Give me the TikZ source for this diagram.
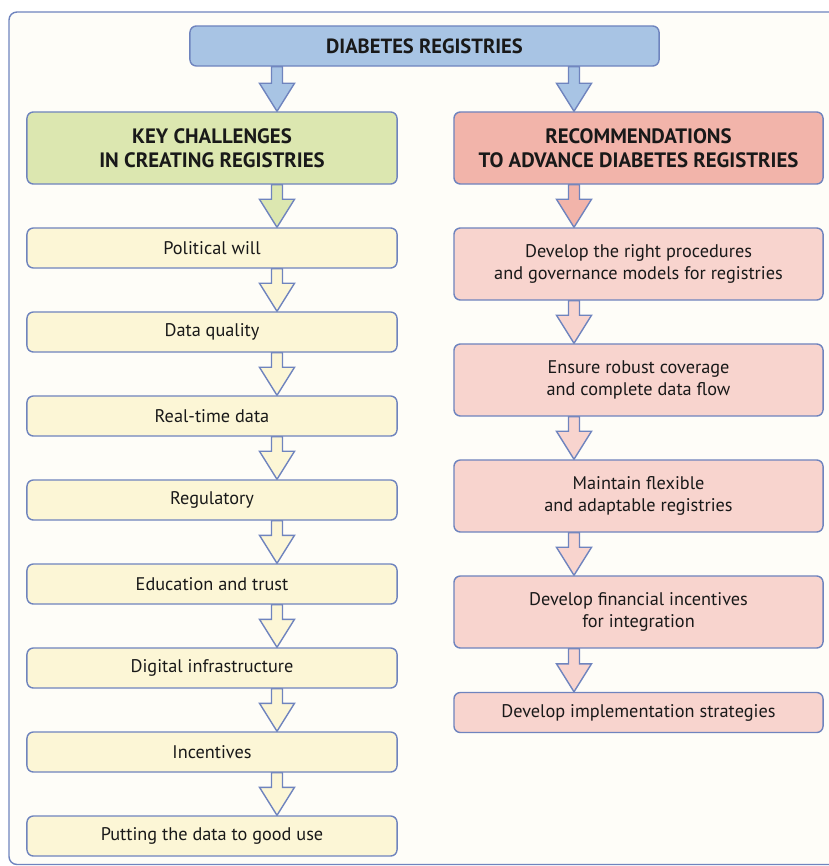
\documentclass[tikz,border=0pt]{standalone}
\usepackage{fontspec}
\setmainfont{PT Sans}
\usepackage{tikz}
\usetikzlibrary{calc}
\pgfdeclarelayer{background}
\pgfdeclarelayer{foreground}
\pgfsetlayers{background,main,foreground}

\definecolor{framecol}{HTML}{6F84BE}
\definecolor{bgcol}{HTML}{FEFDF8}
\definecolor{topcol}{HTML}{A8C4E4}
\definecolor{keycol}{HTML}{DCE7B0}
\definecolor{chalcol}{HTML}{FCF6D6}
\definecolor{reccol}{HTML}{F2B4AA}
\definecolor{stepcol}{HTML}{F8D4CE}

\tikzset{
  box/.style={rectangle,rounded corners=0.16cm,draw=framecol,line width=1pt,
    align=center,text=black!90,font=\fontsize{13}{15.5}\selectfont},
  headbox/.style={box,font=\fontsize{14.8}{17}\selectfont\bfseries,minimum height=1.8cm},
  leftbox/.style={box,fill=chalcol,minimum width=9.25cm,minimum height=1cm},
  rightbox/.style={box,fill=stepcol,minimum width=9.225cm,minimum height=1.8cm}
}

% block arrow from #1 down to #2, on the vertical through #3
\newcommand{\blockarrow}[4]{%
  \path (#1.south -| #3) coordinate (tail) (#2.north -| #3) coordinate (tip);
  \filldraw[fill=#4,draw=framecol,line width=1pt,line join=miter]
    ($(tail)+(-5.5,0)$) -- ($(tip)+(-5.5,-28)$) -- ($(tip)+(-17.5,-28)$) -- (tip)
    -- ($(tip)+(17.5,-28)$) -- ($(tip)+(5.5,-28)$) -- ($(tail)+(5.5,0)$) -- cycle;
}

\begin{document}
\begin{tikzpicture}[x=0.025cm,y=-0.025cm]
  \useasboundingbox (0,0) rectangle (828,866);
  \clip (0,0) rectangle (828,866);

  \coordinate (la) at (277,0);
  \coordinate (ra) at (574,0);

  \draw(424.5,46) node[box,fill=topcol,font=\fontsize{14.6}{17}\selectfont\bfseries,
    minimum width=11.725cm,minimum height=1cm] (top) {DIABETES REGISTRIES};

  \draw(212,148) node[headbox,fill=keycol,minimum width=9.25cm] (key) {KEY CHALLENGES\\IN CREATING REGISTRIES};
  \draw(638.5,148) node[headbox,fill=reccol,minimum width=9.225cm] (rec) {RECOMMENDATIONS\\TO ADVANCE DIABETES REGISTRIES};

  \draw(212,248) node[leftbox] (c1) {Political will};
  \draw(212,332) node[leftbox] (c2) {Data quality};
  \draw(212,416) node[leftbox] (c3) {Real-time data};
  \draw(212,500) node[leftbox] (c4) {Regulatory};
  \draw(212,584) node[leftbox] (c5) {Education and trust};
  \draw(212,668) node[leftbox] (c6) {Digital infrastructure};
  \draw(212,752) node[leftbox] (c7) {Incentives};
  \draw(212,836) node[leftbox] (c8) {Putting the data to good use};

  \draw(638.5,264) node[rightbox] (r1) {Develop the right procedures\\and governance models for registries};
  \draw(638.5,380) node[rightbox] (r2) {Ensure robust coverage\\and complete data flow};
  \draw(638.5,496) node[rightbox] (r3) {Maintain flexible\\and adaptable registries};
  \draw(638.5,612) node[rightbox] (r4) {Develop financial incentives\\for integration};
  \draw(638.5,712.5) node[rightbox,minimum height=1cm] (r5) {Develop implementation strategies};

  \begin{pgfonlayer}{background}
    % outer frame, runs off the right edge
    \draw[framecol,fill=bgcol,line width=1pt,rounded corners=0.2cm] (9,12) rectangle (860,864.5);
    \blockarrow{top}{key}{la}{topcol}
    \blockarrow{top}{rec}{ra}{topcol}
    \blockarrow{key}{c1}{la}{keycol}
    \foreach \a/\b in {c1/c2,c2/c3,c3/c4,c4/c5,c5/c6,c6/c7,c7/c8}
      {\blockarrow{\a}{\b}{la}{chalcol}}
    \blockarrow{rec}{r1}{ra}{reccol}
    \foreach \a/\b in {r1/r2,r2/r3,r3/r4,r4/r5}
      {\blockarrow{\a}{\b}{ra}{stepcol}}
  \end{pgfonlayer}
\end{tikzpicture}
\end{document}
